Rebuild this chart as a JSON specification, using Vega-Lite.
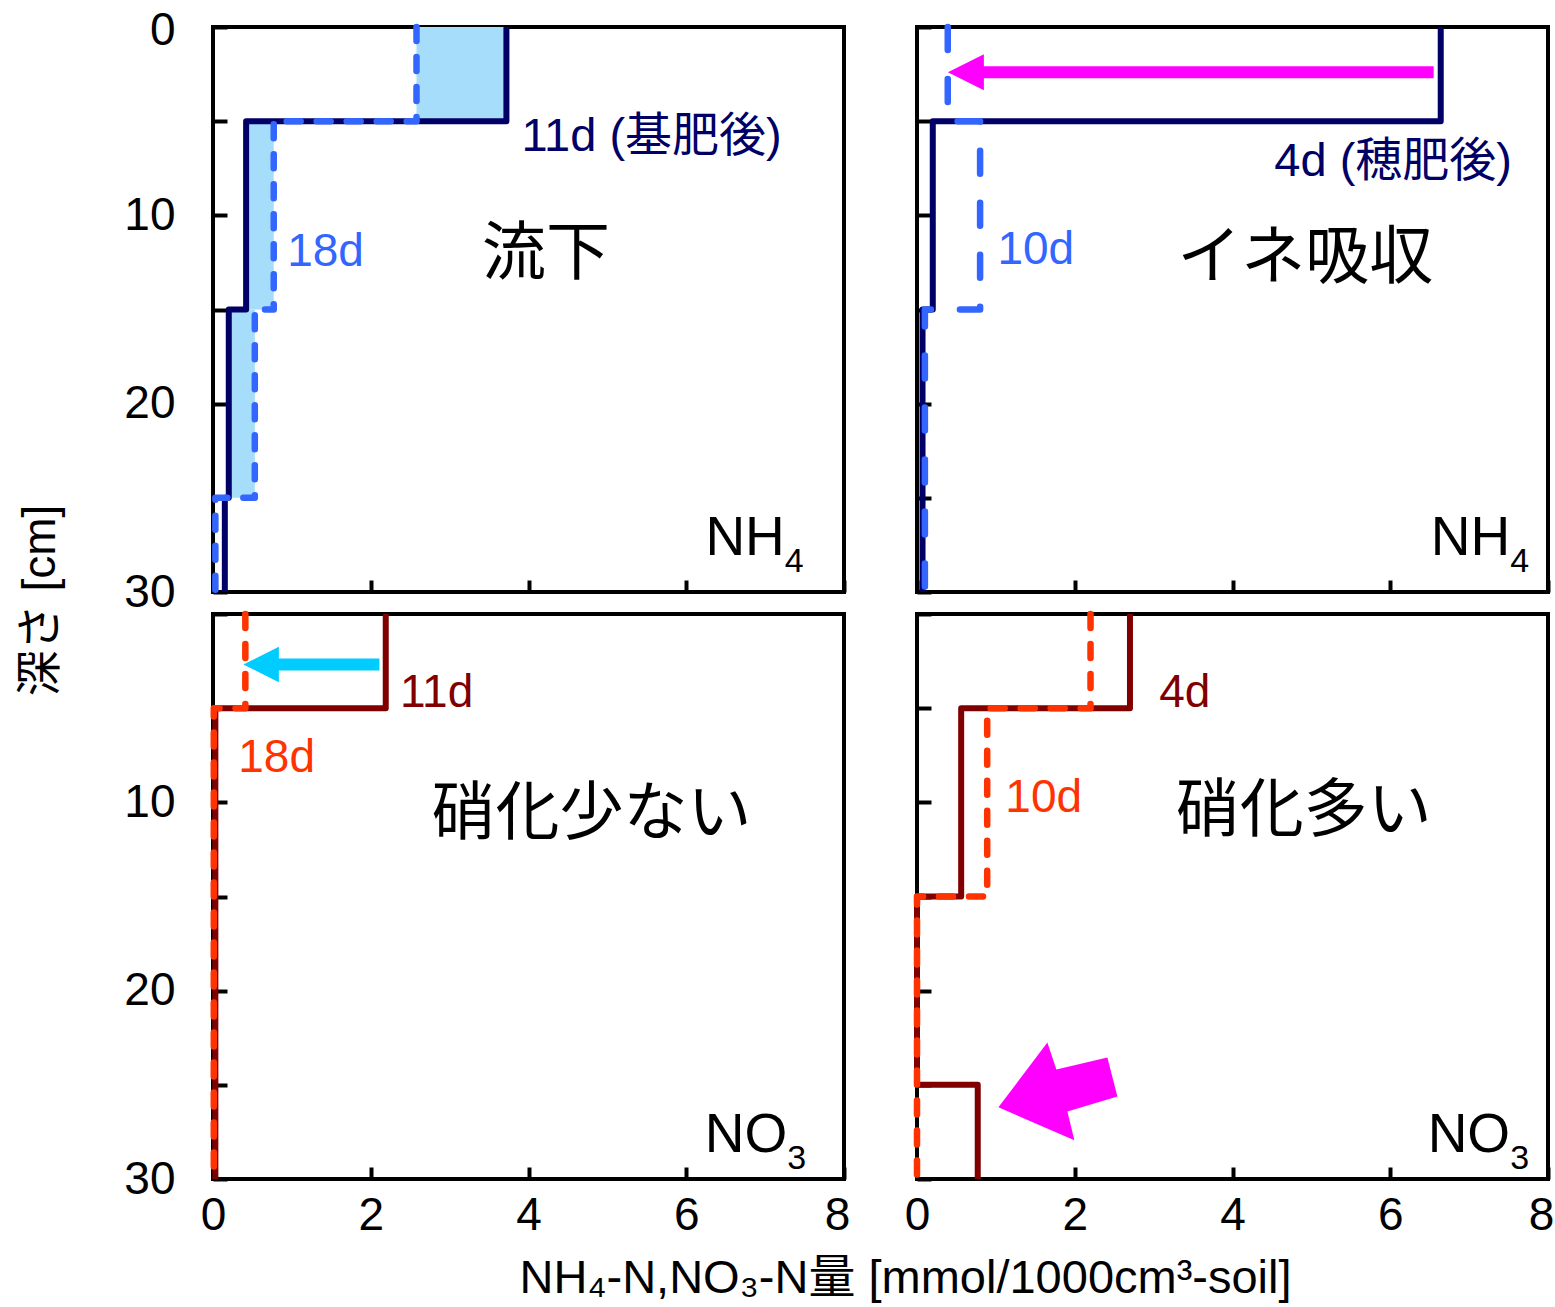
{
  "$schema": "https://vega.github.io/schema/vega-lite/v6.json",
  "background": "white",
  "padding": {"left": 15, "top": 5, "right": 2, "bottom": 2},
  "datasets": {
    "profiles": [
      {"panel": "TL", "series": "11d", "depth": 0, "value": 3.72},
      {"panel": "TL", "series": "11d", "depth": 5, "value": 0.42},
      {"panel": "TL", "series": "11d", "depth": 15, "value": 0.2},
      {"panel": "TL", "series": "11d", "depth": 25, "value": 0.15},
      {"panel": "TL", "series": "11d", "depth": 30, "value": 0.15},
      {"panel": "TL", "series": "18d", "depth": 0, "value": 2.58},
      {"panel": "TL", "series": "18d", "depth": 5, "value": 0.77},
      {"panel": "TL", "series": "18d", "depth": 15, "value": 0.53},
      {"panel": "TL", "series": "18d", "depth": 25, "value": 0.03},
      {"panel": "TL", "series": "18d", "depth": 30, "value": 0.03},
      {"panel": "TR", "series": "4d", "depth": 0, "value": 6.64},
      {"panel": "TR", "series": "4d", "depth": 5, "value": 0.2},
      {"panel": "TR", "series": "4d", "depth": 15, "value": 0.07},
      {"panel": "TR", "series": "4d", "depth": 30, "value": 0.07},
      {"panel": "TR", "series": "10d", "depth": 0, "value": 0.39},
      {"panel": "TR", "series": "10d", "depth": 5, "value": 0.8},
      {"panel": "TR", "series": "10d", "depth": 15, "value": 0.1},
      {"panel": "TR", "series": "10d", "depth": 30, "value": 0.1},
      {"panel": "BL", "series": "11d", "depth": 0, "value": 2.19},
      {"panel": "BL", "series": "11d", "depth": 5, "value": 0.03},
      {"panel": "BL", "series": "11d", "depth": 30, "value": 0.03},
      {"panel": "BL", "series": "18d", "depth": 0, "value": 0.41},
      {"panel": "BL", "series": "18d", "depth": 5, "value": 0.01},
      {"panel": "BL", "series": "18d", "depth": 30, "value": 0.01},
      {"panel": "BR", "series": "4d", "depth": 0, "value": 2.7},
      {"panel": "BR", "series": "4d", "depth": 5, "value": 0.56},
      {"panel": "BR", "series": "4d", "depth": 15, "value": 0},
      {"panel": "BR", "series": "4d", "depth": 25, "value": 0.77},
      {"panel": "BR", "series": "4d", "depth": 30, "value": 0.77},
      {"panel": "BR", "series": "10d", "depth": 0, "value": 2.2},
      {"panel": "BR", "series": "10d", "depth": 5, "value": 0.89},
      {"panel": "BR", "series": "10d", "depth": 15, "value": 0},
      {"panel": "BR", "series": "10d", "depth": 30, "value": 0}
    ],
    "gaps": [
      {"panel": "TL", "top": 0, "bottom": 5, "lo": 2.58, "hi": 3.72},
      {"panel": "TL", "top": 5, "bottom": 15, "lo": 0.42, "hi": 0.77},
      {"panel": "TL", "top": 15, "bottom": 25, "lo": 0.2, "hi": 0.53}
    ],
    "notes": [
      {"panel": "TL", "role": "first", "text": "11d (基肥後)", "x": 3.91, "depth": 5.83},
      {"panel": "TL", "role": "second", "text": "18d", "x": 0.94, "depth": 11.93},
      {"panel": "TL", "role": "process", "text": "流下", "x": 3.41, "depth": 12.1},
      {"panel": "TL", "role": "ion", "text": "NH", "x": 7.25, "depth": 28.04},
      {"panel": "TL", "role": "sub", "text": "4", "x": 7.25, "depth": 28.04},
      {"panel": "TR", "role": "first", "text": "4d (穂肥後)", "x": 4.53, "depth": 7.15},
      {"panel": "TR", "role": "second", "text": "10d", "x": 1.02, "depth": 11.83},
      {"panel": "TR", "role": "process", "text": "イネ吸収", "x": 3.3, "depth": 12.32},
      {"panel": "TR", "role": "ion", "text": "NH", "x": 7.52, "depth": 28.04},
      {"panel": "TR", "role": "sub", "text": "4", "x": 7.52, "depth": 28.04},
      {"panel": "BL", "role": "first", "text": "11d", "x": 2.37, "depth": 4.18},
      {"panel": "BL", "role": "second", "text": "18d", "x": 0.32, "depth": 7.63},
      {"panel": "BL", "role": "process", "text": "硝化少ない", "x": 2.77, "depth": 10.67},
      {"panel": "BL", "role": "ion", "text": "NO", "x": 7.28, "depth": 28.57},
      {"panel": "BL", "role": "sub", "text": "3", "x": 7.28, "depth": 28.57},
      {"panel": "BR", "role": "first", "text": "4d", "x": 3.07, "depth": 4.18},
      {"panel": "BR", "role": "second", "text": "10d", "x": 1.12, "depth": 9.76},
      {"panel": "BR", "role": "process", "text": "硝化多い", "x": 3.28, "depth": 10.52},
      {"panel": "BR", "role": "ion", "text": "NO", "x": 7.52, "depth": 28.57},
      {"panel": "BR", "role": "sub", "text": "3", "x": 7.52, "depth": 28.57}
    ],
    "pointers": [
      {"panel": "TR", "part": "shaft", "x": 0.8, "x2": 6.55, "depth": 2.4},
      {"panel": "TR", "part": "head", "x": 0.62, "depth": 2.4},
      {"panel": "BL", "part": "shaft", "x": 0.8, "x2": 2.11, "depth": 2.68},
      {"panel": "BL", "part": "head", "x": 0.61, "depth": 2.68},
      {"panel": "BR", "part": "block", "x": 1.78, "depth": 25.4}
    ]
  },
  "columns": 2,
  "spacing": {"row": 22, "column": 73},
  "bounds": "flush",
  "concat": [
    {
      "width": 631,
      "height": 565,
      "layer": [
        {
          "data": {"name": "gaps"},
          "transform": [{"filter": "datum.panel === 'TL'"}],
          "mark": {"type": "rect", "color": "#a6ddfb"},
          "encoding": {
            "x": {"field": "lo", "type": "quantitative", "scale": {"domain": [0, 8], "nice": false, "zero": false},
                  "axis": {"values": [0, 2, 4, 6, 8], "labels": false, "title": null}},
            "x2": {"field": "hi"},
            "y": {"field": "top", "type": "quantitative", "scale": {"domain": [0, 30], "nice": false, "reverse": true},
                  "axis": {"values": [0, 5, 10, 15, 20, 25, 30], "labelExpr": "datum.value % 10 === 0 ? datum.label : ''",
                           "labelOffset": {"condition": {"test": "datum.value === 0", "value": 3}, "value": 0},
                           "title": "深さ [cm]", "titleX": -173, "titleY": 573, "titleAngle": -90, "titleAlign": "center", "titleBaseline": "middle"}},
            "y2": {"field": "bottom"}
          }
        },
        {
          "data": {"name": "profiles"},
          "transform": [{"filter": "datum.panel === 'TL' && datum.series === '11d'"}],
          "mark": {"type": "line", "interpolate": "step-before", "color": "#000066", "strokeWidth": 6, "strokeJoin": "round"},
          "encoding": {"x": {"field": "value", "type": "quantitative"}, "y": {"field": "depth", "type": "quantitative"}, "order": {"field": "depth", "type": "quantitative"}}
        },
        {
          "data": {"name": "profiles"},
          "transform": [{"filter": "datum.panel === 'TL' && datum.series === '18d'"}],
          "mark": {"type": "line", "interpolate": "step-before", "color": "#3366ff", "strokeWidth": 6.5, "strokeDash": [14, 16], "strokeCap": "round", "strokeJoin": "round"},
          "encoding": {"x": {"field": "value", "type": "quantitative"}, "y": {"field": "depth", "type": "quantitative"}, "order": {"field": "depth", "type": "quantitative"}}
        },
        {
          "data": {"name": "notes"},
          "transform": [{"filter": "datum.panel === 'TL' && datum.role === 'first'"}],
          "mark": {"type": "text", "color": "#000066", "fontSize": 47, "align": "left", "baseline": "middle"},
          "encoding": {"x": {"field": "x", "type": "quantitative"}, "y": {"field": "depth", "type": "quantitative"}, "text": {"field": "text"}}
        },
        {
          "data": {"name": "notes"},
          "transform": [{"filter": "datum.panel === 'TL' && datum.role === 'second'"}],
          "mark": {"type": "text", "color": "#3366ff", "fontSize": 46, "align": "left", "baseline": "middle"},
          "encoding": {"x": {"field": "x", "type": "quantitative"}, "y": {"field": "depth", "type": "quantitative"}, "text": {"field": "text"}}
        },
        {
          "data": {"name": "notes"},
          "transform": [{"filter": "datum.panel === 'TL' && datum.role === 'process'"}],
          "mark": {"type": "text", "color": "#000000", "fontSize": 64, "align": "left", "baseline": "middle"},
          "encoding": {"x": {"field": "x", "type": "quantitative"}, "y": {"field": "depth", "type": "quantitative"}, "text": {"field": "text"}}
        },
        {
          "data": {"name": "notes"},
          "transform": [{"filter": "datum.panel === 'TL' && datum.role === 'ion'"}],
          "mark": {"type": "text", "color": "#000000", "fontSize": 55, "align": "right", "baseline": "alphabetic"},
          "encoding": {"x": {"field": "x", "type": "quantitative"}, "y": {"field": "depth", "type": "quantitative"}, "text": {"field": "text"}}
        },
        {
          "data": {"name": "notes"},
          "transform": [{"filter": "datum.panel === 'TL' && datum.role === 'sub'"}],
          "mark": {"type": "text", "color": "#000000", "fontSize": 34, "align": "left", "baseline": "alphabetic", "dx": 0, "dy": 17},
          "encoding": {"x": {"field": "x", "type": "quantitative"}, "y": {"field": "depth", "type": "quantitative"}, "text": {"field": "text"}}
        }
      ]
    },
    {
      "width": 631,
      "height": 565,
      "layer": [
        {
          "data": {"name": "profiles"},
          "transform": [{"filter": "datum.panel === 'TR' && datum.series === '4d'"}],
          "mark": {"type": "line", "interpolate": "step-before", "color": "#000066", "strokeWidth": 6, "strokeJoin": "round"},
          "encoding": {
            "x": {"field": "value", "type": "quantitative", "scale": {"domain": [0, 8], "nice": false, "zero": false},
                  "axis": {"values": [0, 2, 4, 6, 8], "labels": false, "title": null}},
            "y": {"field": "depth", "type": "quantitative", "scale": {"domain": [0, 30], "nice": false, "reverse": true},
                  "axis": {"values": [0, 5, 10, 15, 20, 25, 30], "labels": false, "title": null}},
            "order": {"field": "depth", "type": "quantitative"}
          }
        },
        {
          "data": {"name": "profiles"},
          "transform": [{"filter": "datum.panel === 'TR' && datum.series === '10d'"}],
          "mark": {"type": "line", "interpolate": "step-before", "color": "#3366ff", "strokeWidth": 6.5, "strokeDash": [23, 29], "strokeCap": "round", "strokeJoin": "round"},
          "encoding": {"x": {"field": "value", "type": "quantitative"}, "y": {"field": "depth", "type": "quantitative"}, "order": {"field": "depth", "type": "quantitative"}}
        },
        {
          "data": {"name": "pointers"},
          "transform": [{"filter": "datum.panel === 'TR' && datum.part === 'shaft'"}],
          "mark": {"type": "rule", "color": "#ff00ff", "strokeWidth": 12},
          "encoding": {"x": {"field": "x", "type": "quantitative"}, "x2": {"field": "x2"}, "y": {"field": "depth", "type": "quantitative"}}
        },
        {
          "data": {"name": "pointers"},
          "transform": [{"filter": "datum.panel === 'TR' && datum.part === 'head'"}],
          "mark": {"type": "point", "shape": "M-1,0L1,-1L1,1Z", "filled": true, "color": "#ff00ff", "opacity": 1, "size": 1296, "strokeWidth": 0},
          "encoding": {"x": {"field": "x", "type": "quantitative"}, "y": {"field": "depth", "type": "quantitative"}}
        },
        {
          "data": {"name": "notes"},
          "transform": [{"filter": "datum.panel === 'TR' && datum.role === 'first'"}],
          "mark": {"type": "text", "color": "#000066", "fontSize": 47, "align": "left", "baseline": "middle"},
          "encoding": {"x": {"field": "x", "type": "quantitative"}, "y": {"field": "depth", "type": "quantitative"}, "text": {"field": "text"}}
        },
        {
          "data": {"name": "notes"},
          "transform": [{"filter": "datum.panel === 'TR' && datum.role === 'second'"}],
          "mark": {"type": "text", "color": "#3366ff", "fontSize": 46, "align": "left", "baseline": "middle"},
          "encoding": {"x": {"field": "x", "type": "quantitative"}, "y": {"field": "depth", "type": "quantitative"}, "text": {"field": "text"}}
        },
        {
          "data": {"name": "notes"},
          "transform": [{"filter": "datum.panel === 'TR' && datum.role === 'process'"}],
          "mark": {"type": "text", "color": "#000000", "fontSize": 64, "align": "left", "baseline": "middle"},
          "encoding": {"x": {"field": "x", "type": "quantitative"}, "y": {"field": "depth", "type": "quantitative"}, "text": {"field": "text"}}
        },
        {
          "data": {"name": "notes"},
          "transform": [{"filter": "datum.panel === 'TR' && datum.role === 'ion'"}],
          "mark": {"type": "text", "color": "#000000", "fontSize": 55, "align": "right", "baseline": "alphabetic"},
          "encoding": {"x": {"field": "x", "type": "quantitative"}, "y": {"field": "depth", "type": "quantitative"}, "text": {"field": "text"}}
        },
        {
          "data": {"name": "notes"},
          "transform": [{"filter": "datum.panel === 'TR' && datum.role === 'sub'"}],
          "mark": {"type": "text", "color": "#000000", "fontSize": 34, "align": "left", "baseline": "alphabetic", "dx": 0, "dy": 17},
          "encoding": {"x": {"field": "x", "type": "quantitative"}, "y": {"field": "depth", "type": "quantitative"}, "text": {"field": "text"}}
        }
      ]
    },
    {
      "width": 631,
      "height": 565,
      "layer": [
        {
          "data": {"name": "profiles"},
          "transform": [{"filter": "datum.panel === 'BL' && datum.series === '11d'"}],
          "mark": {"type": "line", "interpolate": "step-before", "color": "#800000", "strokeWidth": 6, "strokeJoin": "round"},
          "encoding": {
            "x": {"field": "value", "type": "quantitative", "scale": {"domain": [0, 8], "nice": false, "zero": false},
                  "axis": {"values": [0, 2, 4, 6, 8], "format": "d",
                           "labelOffset": {"condition": {"test": "datum.value === 8", "value": -7}, "value": 0},
                           "title": "NH₄-N,NO₃-N量 [mmol/1000cm³-soil]", "titleFontSize": 47, "titleX": 692, "titleY": 99, "titleAlign": "center", "titleBaseline": "middle"}},
            "y": {"field": "depth", "type": "quantitative", "scale": {"domain": [0, 30], "nice": false, "reverse": true},
                  "axis": {"values": [0, 5, 10, 15, 20, 25, 30], "labelExpr": "datum.value % 10 === 0 && datum.value > 0 ? datum.label : ''", "title": null}},
            "order": {"field": "depth", "type": "quantitative"}
          }
        },
        {
          "data": {"name": "profiles"},
          "transform": [{"filter": "datum.panel === 'BL' && datum.series === '18d'"}],
          "mark": {"type": "line", "interpolate": "step-before", "color": "#ff3300", "strokeWidth": 6.5, "strokeDash": [14, 16], "strokeCap": "round", "strokeJoin": "round"},
          "encoding": {"x": {"field": "value", "type": "quantitative"}, "y": {"field": "depth", "type": "quantitative"}, "order": {"field": "depth", "type": "quantitative"}}
        },
        {
          "data": {"name": "pointers"},
          "transform": [{"filter": "datum.panel === 'BL' && datum.part === 'shaft'"}],
          "mark": {"type": "rule", "color": "#00ccff", "strokeWidth": 12},
          "encoding": {"x": {"field": "x", "type": "quantitative"}, "x2": {"field": "x2"}, "y": {"field": "depth", "type": "quantitative"}}
        },
        {
          "data": {"name": "pointers"},
          "transform": [{"filter": "datum.panel === 'BL' && datum.part === 'head'"}],
          "mark": {"type": "point", "shape": "M-1,0L1,-1L1,1Z", "filled": true, "color": "#00ccff", "opacity": 1, "size": 1260, "strokeWidth": 0},
          "encoding": {"x": {"field": "x", "type": "quantitative"}, "y": {"field": "depth", "type": "quantitative"}}
        },
        {
          "data": {"name": "notes"},
          "transform": [{"filter": "datum.panel === 'BL' && datum.role === 'first'"}],
          "mark": {"type": "text", "color": "#800000", "fontSize": 46, "align": "left", "baseline": "middle"},
          "encoding": {"x": {"field": "x", "type": "quantitative"}, "y": {"field": "depth", "type": "quantitative"}, "text": {"field": "text"}}
        },
        {
          "data": {"name": "notes"},
          "transform": [{"filter": "datum.panel === 'BL' && datum.role === 'second'"}],
          "mark": {"type": "text", "color": "#ff3300", "fontSize": 46, "align": "left", "baseline": "middle"},
          "encoding": {"x": {"field": "x", "type": "quantitative"}, "y": {"field": "depth", "type": "quantitative"}, "text": {"field": "text"}}
        },
        {
          "data": {"name": "notes"},
          "transform": [{"filter": "datum.panel === 'BL' && datum.role === 'process'"}],
          "mark": {"type": "text", "color": "#000000", "fontSize": 64, "align": "left", "baseline": "middle"},
          "encoding": {"x": {"field": "x", "type": "quantitative"}, "y": {"field": "depth", "type": "quantitative"}, "text": {"field": "text"}}
        },
        {
          "data": {"name": "notes"},
          "transform": [{"filter": "datum.panel === 'BL' && datum.role === 'ion'"}],
          "mark": {"type": "text", "color": "#000000", "fontSize": 55, "align": "right", "baseline": "alphabetic"},
          "encoding": {"x": {"field": "x", "type": "quantitative"}, "y": {"field": "depth", "type": "quantitative"}, "text": {"field": "text"}}
        },
        {
          "data": {"name": "notes"},
          "transform": [{"filter": "datum.panel === 'BL' && datum.role === 'sub'"}],
          "mark": {"type": "text", "color": "#000000", "fontSize": 34, "align": "left", "baseline": "alphabetic", "dx": 0, "dy": 17},
          "encoding": {"x": {"field": "x", "type": "quantitative"}, "y": {"field": "depth", "type": "quantitative"}, "text": {"field": "text"}}
        }
      ]
    },
    {
      "width": 631,
      "height": 565,
      "layer": [
        {
          "data": {"name": "profiles"},
          "transform": [{"filter": "datum.panel === 'BR' && datum.series === '4d'"}],
          "mark": {"type": "line", "interpolate": "step-before", "color": "#800000", "strokeWidth": 6, "strokeJoin": "round"},
          "encoding": {
            "x": {"field": "value", "type": "quantitative", "scale": {"domain": [0, 8], "nice": false, "zero": false},
                  "axis": {"values": [0, 2, 4, 6, 8], "format": "d",
                           "labelOffset": {"condition": {"test": "datum.value === 8", "value": -7}, "value": 0},
                           "title": null}},
            "y": {"field": "depth", "type": "quantitative", "scale": {"domain": [0, 30], "nice": false, "reverse": true},
                  "axis": {"values": [0, 5, 10, 15, 20, 25, 30], "labels": false, "title": null}},
            "order": {"field": "depth", "type": "quantitative"}
          }
        },
        {
          "data": {"name": "profiles"},
          "transform": [{"filter": "datum.panel === 'BR' && datum.series === '10d'"}],
          "mark": {"type": "line", "interpolate": "step-before", "color": "#ff3300", "strokeWidth": 6.5, "strokeDash": [14, 16], "strokeCap": "round", "strokeJoin": "round"},
          "encoding": {"x": {"field": "value", "type": "quantitative"}, "y": {"field": "depth", "type": "quantitative"}, "order": {"field": "depth", "type": "quantitative"}}
        },
        {
          "data": {"name": "pointers"},
          "transform": [{"filter": "datum.panel === 'BR' && datum.part === 'block'"}],
          "mark": {"type": "point", "shape": "M-0.983,0.25L-0.167,-0.833L-0.017,-0.383L0.833,-0.583L1,0.067L0.167,0.317L0.283,0.8Z", "filled": true, "color": "#ff00ff", "opacity": 1, "size": 14400, "strokeWidth": 0},
          "encoding": {"x": {"field": "x", "type": "quantitative"}, "y": {"field": "depth", "type": "quantitative"}}
        },
        {
          "data": {"name": "notes"},
          "transform": [{"filter": "datum.panel === 'BR' && datum.role === 'first'"}],
          "mark": {"type": "text", "color": "#800000", "fontSize": 46, "align": "left", "baseline": "middle"},
          "encoding": {"x": {"field": "x", "type": "quantitative"}, "y": {"field": "depth", "type": "quantitative"}, "text": {"field": "text"}}
        },
        {
          "data": {"name": "notes"},
          "transform": [{"filter": "datum.panel === 'BR' && datum.role === 'second'"}],
          "mark": {"type": "text", "color": "#ff3300", "fontSize": 46, "align": "left", "baseline": "middle"},
          "encoding": {"x": {"field": "x", "type": "quantitative"}, "y": {"field": "depth", "type": "quantitative"}, "text": {"field": "text"}}
        },
        {
          "data": {"name": "notes"},
          "transform": [{"filter": "datum.panel === 'BR' && datum.role === 'process'"}],
          "mark": {"type": "text", "color": "#000000", "fontSize": 64, "align": "left", "baseline": "middle"},
          "encoding": {"x": {"field": "x", "type": "quantitative"}, "y": {"field": "depth", "type": "quantitative"}, "text": {"field": "text"}}
        },
        {
          "data": {"name": "notes"},
          "transform": [{"filter": "datum.panel === 'BR' && datum.role === 'ion'"}],
          "mark": {"type": "text", "color": "#000000", "fontSize": 55, "align": "right", "baseline": "alphabetic"},
          "encoding": {"x": {"field": "x", "type": "quantitative"}, "y": {"field": "depth", "type": "quantitative"}, "text": {"field": "text"}}
        },
        {
          "data": {"name": "notes"},
          "transform": [{"filter": "datum.panel === 'BR' && datum.role === 'sub'"}],
          "mark": {"type": "text", "color": "#000000", "fontSize": 34, "align": "left", "baseline": "alphabetic", "dx": 0, "dy": 17},
          "encoding": {"x": {"field": "x", "type": "quantitative"}, "y": {"field": "depth", "type": "quantitative"}, "text": {"field": "text"}}
        }
      ]
    }
  ],
  "config": {
    "font": "'Liberation Sans', 'Noto Sans CJK JP', sans-serif",
    "view": {"stroke": "#000000", "strokeWidth": 4},
    "axis": {
      "domain": false,
      "grid": false,
      "ticks": true,
      "tickColor": "#000000",
      "tickWidth": 4,
      "labelColor": "#000000",
      "labelFontSize": 46,
      "labelOverlap": false,
      "labelFlush": false,
      "titleColor": "#000000",
      "titleFontSize": 46,
      "titleFontWeight": "normal"
    },
    "axisX": {"tickSize": -12, "labelPadding": 26, "labelBaseline": "top"},
    "axisY": {"tickSize": -14, "labelPadding": 52, "labelBaseline": "middle", "labelAlign": "right"}
  }
}
